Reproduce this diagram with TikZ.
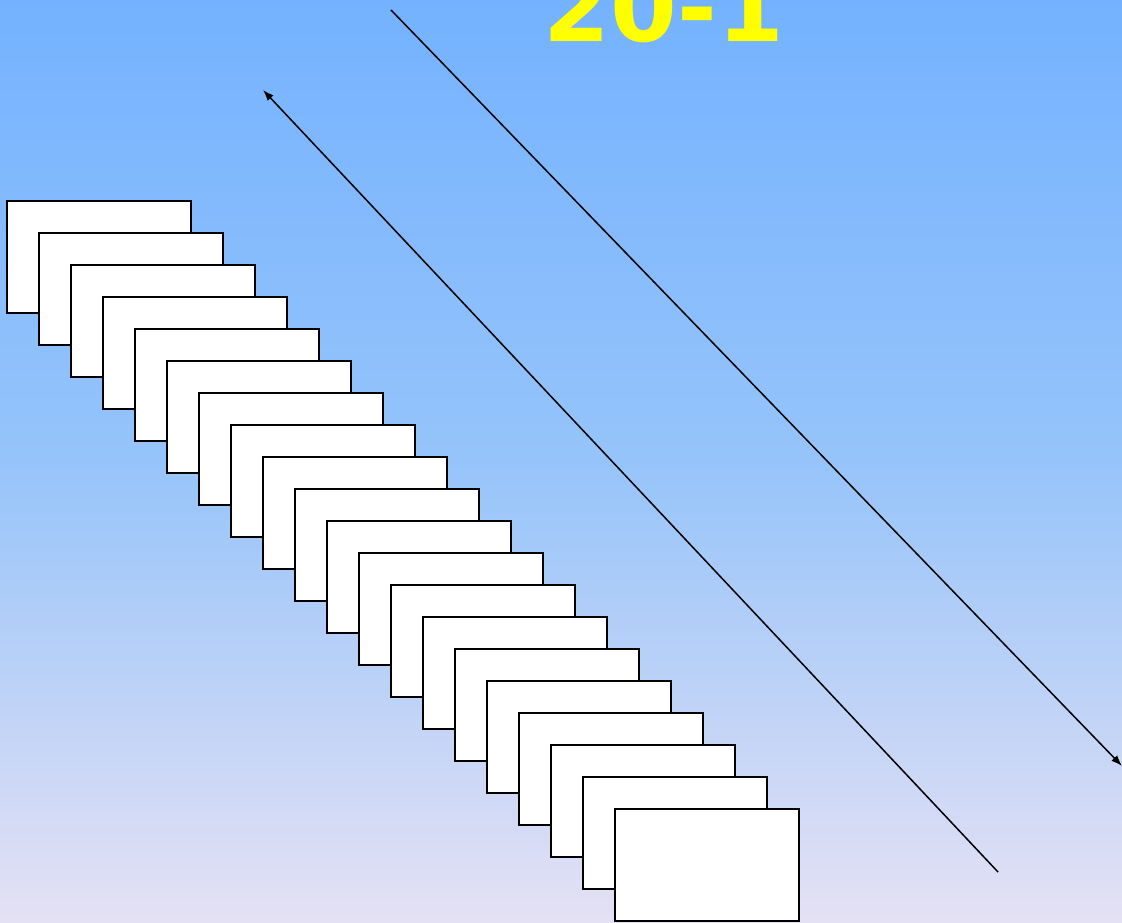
\documentclass[tikz,border=0pt]{standalone}
\usepackage{fontspec}
\newfontfamily\titlefont{DejaVu Sans}
\usetikzlibrary{arrows.meta}
\definecolor{bgtop}{RGB}{116,178,255}
\definecolor{bgmid}{RGB}{150,196,250}
\definecolor{bgbot}{RGB}{229,225,244}
\definecolor{titleyellow}{RGB}{255,255,0}
\tikzset{
  slide/.style={draw=black, fill=white, line width=1.5pt, minimum width=184pt, minimum height=112pt, inner sep=0pt, outer sep=0pt, anchor=north west},
  conn/.style={line width=1.5pt, black},
  tip/.style={-{Latex[length=11pt,width=8pt]}}
}
\begin{document}
\begin{tikzpicture}[x=1pt,y=-1pt]
\useasboundingbox (0,0) rectangle (1122,923);
\clip (0,0) rectangle (1122,923);
\shade[top color=bgtop, bottom color=bgbot, middle color=bgmid] (0,0) rectangle (1122,923);
\node[font=\titlefont\bfseries\fontsize{96}{96}\selectfont, text=titleyellow, anchor=base, inner sep=0pt] (title) at (664,42) {20-1};
\foreach \i in {0,...,19} {
  \node[slide] (r\i) at ({7+32*\i},{201+32*\i}) {};
}
\coordinate (a1s) at (998,872);
\coordinate (a1e) at (263,90);
\coordinate (a2s) at (391,10);
\coordinate (a2e) at (1122,766);
\draw[conn,tip] (a1s) -- (a1e);
\draw[conn,tip] (a2s) -- (a2e);
\end{tikzpicture}
\end{document}
